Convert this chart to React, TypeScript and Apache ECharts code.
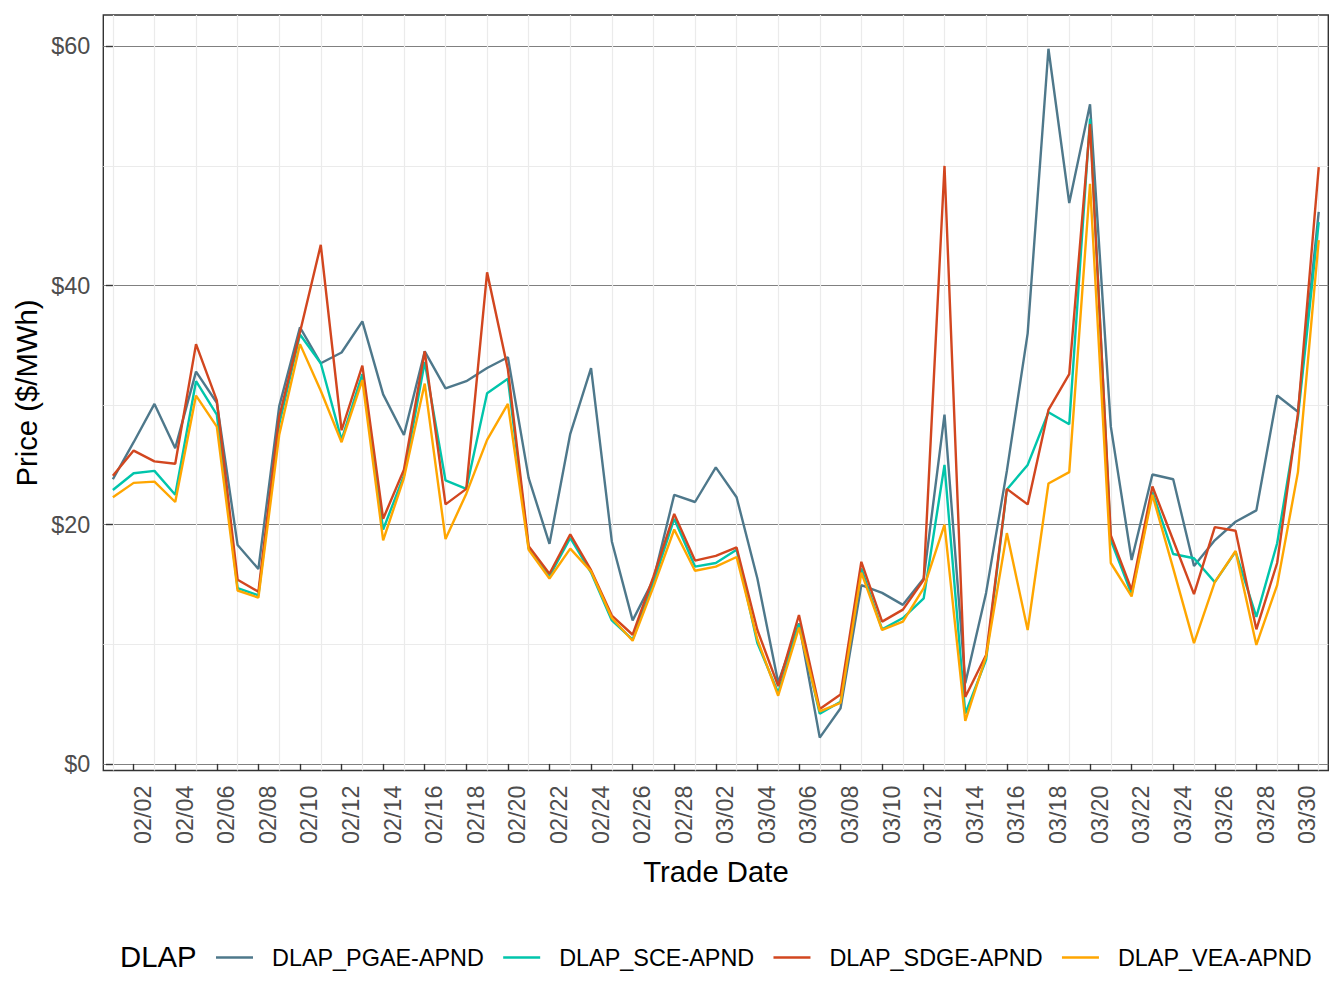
import React, { useEffect, useRef } from "react";
import * as echarts from "echarts";

// Trade dates (one point per day)
const tradeDates = [
  "02/01", "02/02", "02/03", "02/04", "02/05", "02/06", "02/07", "02/08", "02/09", "02/10",
  "02/11", "02/12", "02/13", "02/14", "02/15", "02/16", "02/17", "02/18", "02/19", "02/20",
  "02/21", "02/22", "02/23", "02/24", "02/25", "02/26", "02/27", "02/28", "03/01", "03/02",
  "03/03", "03/04", "03/05", "03/06", "03/07", "03/08", "03/09", "03/10", "03/11", "03/12",
  "03/13", "03/14", "03/15", "03/16", "03/17", "03/18", "03/19", "03/20", "03/21", "03/22",
  "03/23", "03/24", "03/25", "03/26", "03/27", "03/28", "03/29", "03/30", "03/31",
];

// Daily prices, $/MWh
const pgae = [
  23.8, 26.9, 30.1, 26.4, 32.8, 30.2, 18.3, 16.3, 29.9, 36.5,
  33.5, 34.4, 37.0, 30.9, 27.5, 34.5, 31.4, 32.0, 33.1, 34.0,
  23.9, 18.4, 27.6, 33.1, 18.6, 12.0, 15.4, 22.5, 21.9, 24.8,
  22.3, 15.5, 6.8, 11.75, 2.2, 4.65, 14.95, 14.3, 13.3, 15.5,
  29.2, 6.75, 14.3, 24.5, 36.0, 59.8, 46.9, 55.15, 28.2, 17.05,
  24.2, 23.8, 16.55, 18.7, 20.25, 21.2, 30.8, 29.45, 46.15,
];
const sce = [
  22.9, 24.3, 24.5, 22.5, 32.0, 29.2, 14.7, 14.1, 28.4, 35.9,
  33.5, 27.1, 32.6, 19.6, 24.1, 33.6, 23.7, 23.0, 31.0, 32.2,
  18.0, 15.7, 18.9, 16.0, 12.0, 10.4, 15.15, 20.5, 16.5, 16.8,
  17.9, 10.1, 5.95, 11.7, 4.2, 5.2, 16.35, 11.25, 12.2, 13.85,
  25.0, 4.2, 8.7, 22.95, 25.0, 29.4, 28.4, 53.95, 18.7, 14.2,
  22.75, 17.55, 17.2, 15.2, 17.75, 12.3, 18.45, 29.0, 45.3,
];
const sdge = [
  24.1, 26.2, 25.3, 25.1, 35.1, 30.4, 15.4, 14.4, 29.0, 36.1,
  43.4, 27.9, 33.3, 20.5, 24.6, 34.5, 21.7, 23.0, 41.1, 33.0,
  18.2, 15.9, 19.2, 16.2, 12.4, 10.8, 15.65, 20.9, 17.0, 17.4,
  18.1, 11.2, 6.5, 12.45, 4.6, 5.8, 16.9, 11.9, 12.9, 15.4,
  50.0, 5.6, 9.1, 23.0, 21.7, 29.6, 32.6, 53.5, 19.1, 14.55,
  23.2, 18.7, 14.2, 19.8, 19.5, 11.25, 16.8, 29.3, 49.9,
];
const vea = [
  22.3, 23.5, 23.6, 21.9, 30.8, 28.2, 14.5, 13.9, 27.5, 35.1,
  31.2, 26.9, 32.1, 18.7, 23.9, 31.8, 18.8, 22.6, 27.1, 30.1,
  17.9, 15.5, 18.0, 16.1, 12.2, 10.3, 14.8, 19.6, 16.15, 16.5,
  17.3, 10.4, 5.7, 11.4, 4.4, 5.1, 16.0, 11.2, 11.9, 14.7,
  20.0, 3.6, 9.0, 19.3, 11.2, 23.45, 24.4, 48.5, 16.8, 14.0,
  22.5, 16.35, 10.1, 15.2, 17.8, 9.95, 14.95, 24.4, 43.8,
];

const seriesNames = ["DLAP_PGAE-APND", "DLAP_SCE-APND", "DLAP_SDGE-APND", "DLAP_VEA-APND"];
const seriesValues = [pgae, sce, sdge, vea];
const seriesColors = ["#4e788b", "#00c5ab", "#d2461f", "#ffa600"];

const priceTicks = [0, 20, 40, 60];
const priceMinorTicks = [10, 30, 50];

const FONT = '"Liberation Sans", Arial, Helvetica, sans-serif';

export default function App() {
  const ref = useRef<HTMLDivElement>(null);

  useEffect(() => {
    const chart = echarts.init(ref.current!, null, { renderer: "svg" });

    const dayIdx = tradeDates.map((_, i) => i);
    const labelDays = dayIdx.filter((i) => i % 2 === 1);
    const gridDays = dayIdx.filter((i) => i % 2 === 0);

    const xMin = -0.46;
    const xMax = tradeDates.length - 1 + 0.46;
    const yMin = -0.55;
    const yMax = 62.62;

    const option: any = {
      animation: false,
      backgroundColor: "#ffffff",
      textStyle: { fontFamily: FONT },
      grid: {
        left: 103.3,
        right: 15.7,
        top: 15,
        bottom: 237.5,
        show: true,
        borderColor: "#333333",
        borderWidth: 1.4,
        backgroundColor: "transparent",
      },
      xAxis: [
        {
          type: "value",
          min: xMin,
          max: xMax,
          position: "bottom",
          axisLine: { show: false },
          axisTick: {
            show: true,
            customValues: labelDays,
            length: 7,
            lineStyle: { color: "#333333", width: 1.4 },
          },
          axisLabel: {
            customValues: labelDays,
            rotate: 90,
            margin: 15,
            fontSize: 23.4,
            color: "#4d4d4d",
            fontFamily: FONT,
            verticalAlign: "top",
            lineHeight: 19,
            formatter: (v: number) => tradeDates[Math.round(v)] ?? "",
          },
          splitLine: { show: false },
        },
        {
          type: "value",
          min: xMin,
          max: xMax,
          position: "bottom",
          axisLine: { show: false },
          axisTick: { show: false, customValues: gridDays },
          axisLabel: { show: false },
          splitLine: { show: true, lineStyle: { color: "#ebebeb", width: 1.2 } },
        },
      ],
      yAxis: [
        {
          type: "value",
          min: yMin,
          max: yMax,
          position: "left",
          axisLine: { show: false },
          axisTick: {
            show: true,
            customValues: priceTicks,
            length: 7,
            lineStyle: { color: "#333333", width: 1.4 },
          },
          axisLabel: {
            customValues: priceTicks,
            margin: 13,
            fontSize: 23.4,
            color: "#4d4d4d",
            fontFamily: FONT,
            formatter: (v: number) => "$" + v,
          },
          splitLine: { show: true, lineStyle: { color: "#808080", width: 1 } },
        },
        {
          type: "value",
          min: yMin,
          max: yMax,
          position: "left",
          axisLine: { show: false },
          axisTick: { show: false, customValues: priceMinorTicks },
          axisLabel: { show: false },
          splitLine: { show: true, lineStyle: { color: "#ebebeb", width: 1.2 } },
        },
      ],
      legend: {
        data: seriesNames,
        left: 211,
        top: 941,
        orient: "horizontal",
        icon: "rect",
        itemWidth: 37,
        itemHeight: 2.4,
        itemGap: 19.3,
        textStyle: {
          fontSize: 23.4,
          color: "#000000",
          fontFamily: FONT,
          padding: [0, 0, 0, 14],
        },
      },
      graphic: [
        {
          type: "text",
          x: 26.4,
          y: 393,
          rotation: Math.PI / 2,
          style: {
            text: "Price ($/MWh)",
            fontSize: 29.3,
            fontFamily: FONT,
            fill: "#000000",
            textAlign: "center",
            textVerticalAlign: "middle",
          },
        },
        {
          type: "text",
          x: 716,
          y: 871.5,
          style: {
            text: "Trade Date",
            fontSize: 29.3,
            fontFamily: FONT,
            fill: "#000000",
            textAlign: "center",
            textVerticalAlign: "middle",
          },
        },
        {
          type: "text",
          x: 120,
          y: 956,
          style: {
            text: "DLAP",
            fontSize: 29.3,
            fontFamily: FONT,
            fill: "#000000",
            textAlign: "left",
            textVerticalAlign: "middle",
          },
        },
      ],
      series: seriesNames.map((name, k) => ({
        name,
        type: "line",
        xAxisIndex: 0,
        yAxisIndex: 0,
        showSymbol: false,
        symbol: "none",
        color: seriesColors[k],
        lineStyle: { width: 2.4, color: seriesColors[k] },
        data: seriesValues[k].map((v, i) => [i, v]),
      })),
    };

    chart.setOption(option);
    return () => chart.dispose();
  }, []);

  return (
    <div
      ref={ref}
      style={{ position: "absolute", left: 0, top: 0, width: 1344, height: 1008 }}
    />
  );
}
